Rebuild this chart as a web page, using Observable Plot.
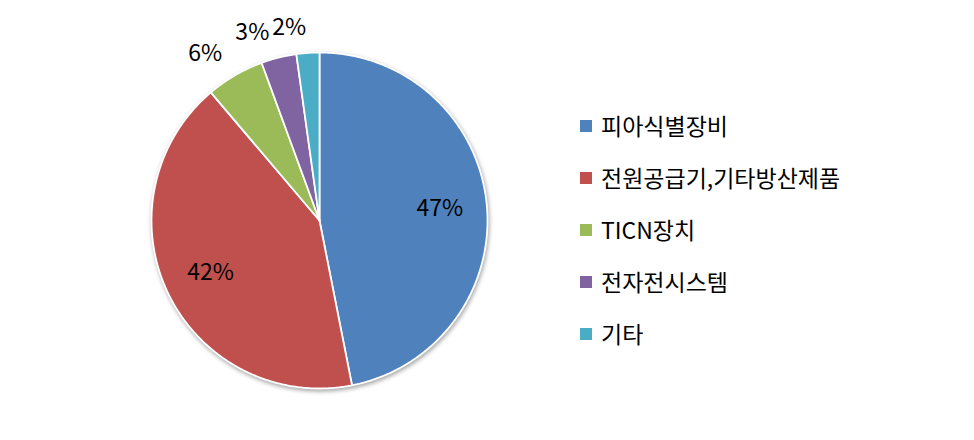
<!DOCTYPE html>
<html>
<head>
<meta charset="utf-8">
<script src="https://cdn.jsdelivr.net/npm/d3@7"></script>
<script src="https://cdn.jsdelivr.net/npm/@observablehq/plot@0.6"></script>
<style>
  html, body { margin: 0; padding: 0; background: #fff; }
  #wrap { position: relative; width: 974px; height: 440px; font-family: "Noto Sans CJK KR", "Noto Sans", sans-serif; }
  #legend { position: absolute; left: 580px; top: 0; }
  .item { position: absolute; left: 0; white-space: nowrap; font-size: 23px; line-height: 30px; color: #000; }
  .sw { display: inline-block; width: 12px; height: 12px; margin-right: 9px; vertical-align: 3px; }
</style>
</head>
<body>
<div id="wrap"></div>
<script>
const categories = ["피아식별장비", "전원공급기,기타방산제품", "TICN장치", "전자전시스템", "기타"];
const values = [46.9, 41.9, 5.6, 3.4, 2.2];
const labels = ["47%", "42%", "6%", "3%", "2%"];
const colors = ["#4F81BD", "#C0504D", "#9BBB59", "#8064A2", "#4BACC6"];

const R_PX = 168;
const total = d3.sum(values);
const slices = [];
const labelRows = [];
let start = 0;
values.forEach((v, i) => {
  const a0 = start / total * 2 * Math.PI;
  const a1 = (start + v) / total * 2 * Math.PI;
  start += v;
  const n = Math.max(2, Math.ceil((a1 - a0) / (Math.PI / 360)));
  slices.push({cat: categories[i], x: 0, y: 0});
  for (let k = 0; k <= n; k++) {
    const a = a0 + (a1 - a0) * k / n;
    slices.push({cat: categories[i], x: Math.sin(a), y: Math.cos(a)});
  }
  slices.push({cat: categories[i], x: 0, y: 0});
  const am = (a0 + a1) / 2;
  const inside = v / total >= 0.1;
  const r = inside ? 0.72 : 1.15;
  labelRows.push({text: labels[i], x: r * Math.sin(am), y: r * Math.cos(am), inside});
});
// resolve overlaps of outside labels (anchored at their right edge)
const outside = labelRows.filter(d => !d.inside);
const labelW = 36 / R_PX;
for (let k = outside.length - 2; k >= 0; k--) {
  const next = outside[k + 1];
  const leftOfNext = next.x - labelW;
  if (outside[k].x > leftOfNext - 0.005) outside[k].x = leftOfNext - 0.005;
}

const chart = Plot.plot({
  width: 974,
  height: 440,
  marginLeft: 151,
  marginRight: 487,
  marginTop: 52,
  marginBottom: 52,
  x: {domain: [-1, 1], axis: null},
  y: {domain: [-1, 1], axis: null},
  color: {domain: categories, range: colors},
  style: {fontFamily: '"Noto Sans CJK KR", "Noto Sans", sans-serif', background: "transparent"},
  marks: [
    Plot.line(slices, {x: "x", y: "y", z: "cat", fill: "cat", stroke: "white", strokeWidth: 1.8, strokeLinejoin: "round"}),
    Plot.text(labelRows.filter(d => d.inside), {x: "x", y: "y", text: "text", fontSize: 23, fill: "black", textAnchor: "middle"}),
    Plot.text(outside, {x: "x", y: "y", text: "text", fontSize: 23, fill: "black", textAnchor: "end"})
  ]
});
d3.select(chart).select('g[aria-label="line"]').style("filter", "drop-shadow(1px 2px 2px rgba(0,0,0,0.35))");

const wrap = document.getElementById("wrap");
wrap.appendChild(chart);
const legend = document.createElement("div");
legend.id = "legend";
categories.forEach((c, i) => {
  const it = document.createElement("div");
  it.className = "item";
  it.style.top = (110 + i * 52) + "px";
  const sw = document.createElement("span");
  sw.className = "sw";
  sw.style.background = colors[i];
  it.appendChild(sw);
  it.appendChild(document.createTextNode(c));
  legend.appendChild(it);
});
wrap.appendChild(legend);
</script>
</body>
</html>
